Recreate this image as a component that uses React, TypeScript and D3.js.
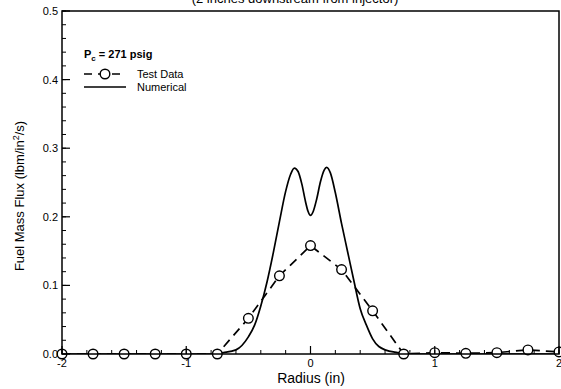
import React from "react";
import * as d3 from "d3";

const testX = [-2, -1.75, -1.5, -1.25, -1, -0.75, -0.5, -0.25, 0, 0.25, 0.5, 0.75, 1, 1.25, 1.5, 1.75, 2];
const testY = [0, 0, 0, 0, 0, 0, 0.052, 0.114, 0.158, 0.123, 0.063, 0.0, 0.002, 0.001, 0.002, 0.006, 0.003];

const numX = [-2, -1.5, -1, -0.8, -0.7, -0.6, -0.5, -0.45, -0.4, -0.35, -0.3, -0.25, -0.2, -0.16, -0.13, -0.1, -0.07, -0.04, -0.02, 0, 0.02, 0.05, 0.08, 0.11, 0.13, 0.16, 0.2, 0.25, 0.3, 0.35, 0.4, 0.45, 0.5, 0.6, 0.7, 0.8, 1, 1.5, 2];
const numY = [0, 0, 0, 0, 0.002, 0.006, 0.025, 0.042, 0.07, 0.105, 0.147, 0.193, 0.237, 0.262, 0.271, 0.266, 0.248, 0.222, 0.208, 0.202, 0.207, 0.226, 0.251, 0.268, 0.272, 0.264, 0.235, 0.19, 0.148, 0.106, 0.066, 0.042, 0.022, 0.006, 0.002, 0, 0, 0, 0];

const xTicks = [-2, -1, 0, 1, 2];
const yTicks = [0, 0.1, 0.2, 0.3, 0.4, 0.5];
const yTickLabels = ["0.0", "0.1", "0.2", "0.3", "0.4", "0.5"];

const titleText = "(2 inches downstream from injector)";
const xTitle = "Radius (in)";
const legendTest = "Test Data";
const legendNum = "Numerical";

export default function App() {
  const W = 561, H = 389;
  const L = 62, R = 559, T = 11, B = 354;
  const x = d3.scaleLinear().domain([-2, 2]).range([L, R]);
  const y = d3.scaleLinear().domain([0, 0.5]).range([B, T]);
  const xMinor = d3.range(-2, 2.0001, 0.2);
  const yMinor = d3.range(0, 0.5001, 0.02);
  const numLine = d3.line<number>().x((d, i) => x(numX[i])).y((d) => y(d)).curve(d3.curveMonotoneX)(numY) || "";
  const testLine = d3.line<number>().x((d, i) => x(testX[i])).y((d) => y(d))(testY) || "";
  const font = "'Liberation Sans', Arial, sans-serif";
  return (
    <svg width={W} height={H} style={{ position: "absolute", left: 0, top: 0, background: "#fff" }} fontFamily={font}>
      <text x={295} y={3} textAnchor="middle" fontSize={13}>{titleText}</text>
      <defs>
        <clipPath id="clip"><rect x={L} y={T} width={R - L} height={B - T} /></clipPath>
      </defs>
      <g clipPath="url(#clip)">
        <path d={numLine} fill="none" stroke="#000" strokeWidth={1.7} />
        <path d={testLine} fill="none" stroke="#000" strokeWidth={1.7} strokeDasharray="9,6" />
      </g>
      {testX.map((xv, i) => (
        <circle key={i} cx={x(xv)} cy={y(testY[i])} r={4.8} fill="#fff" stroke="#000" strokeWidth={1.4} />
      ))}
      <rect x={L} y={T} width={R - L} height={B - T} fill="none" stroke="#000" strokeWidth={1.5} />
      {xMinor.map((v, i) => (
        <line key={"xm" + i} x1={x(v)} x2={x(v)} y1={B} y2={B - 4} stroke="#000" strokeWidth={1} />
      ))}
      {xTicks.map((v) => (
        <g key={"xt" + v}>
          <line x1={x(v)} x2={x(v)} y1={B} y2={B - 8} stroke="#000" strokeWidth={1.2} />
          <text x={x(v)} y={B + 13} textAnchor="middle" fontSize={11}>{v}</text>
        </g>
      ))}
      {yMinor.map((v, i) => (
        <line key={"ym" + i} x1={L} x2={L + 4} y1={y(v)} y2={y(v)} stroke="#000" strokeWidth={1} />
      ))}
      {yTicks.map((v, i) => (
        <g key={"yt" + v}>
          <line x1={L} x2={L + 8} y1={y(v)} y2={y(v)} stroke="#000" strokeWidth={1.2} />
          <text x={L - 4} y={y(v) + 4} textAnchor="end" fontSize={11}>{yTickLabels[i]}</text>
        </g>
      ))}
      <text x={311} y={383} textAnchor="middle" fontSize={14}>{xTitle}</text>
      <text transform={`translate(24,196) rotate(-90)`} textAnchor="middle" fontSize={13}>
        Fuel Mass Flux (lbm/in<tspan dy={-5} fontSize={9}>2</tspan><tspan dy={5}>/s)</tspan>
      </text>
      <text x={84} y={58} fontSize={11} fontWeight="bold">
        P<tspan dy={3} fontSize={8}>c</tspan><tspan dy={-3}> = 271 psig</tspan>
      </text>
      <line x1={84} x2={126} y1={74} y2={74} stroke="#000" strokeWidth={1.6} strokeDasharray="8,6" />
      <circle cx={105} cy={74} r={4.8} fill="#fff" stroke="#000" strokeWidth={1.4} />
      <text x={137} y={78} fontSize={11}>{legendTest}</text>
      <line x1={84} x2={126} y1={87} y2={87} stroke="#000" strokeWidth={1.6} />
      <text x={137} y={91} fontSize={11}>{legendNum}</text>
    </svg>
  );
}
